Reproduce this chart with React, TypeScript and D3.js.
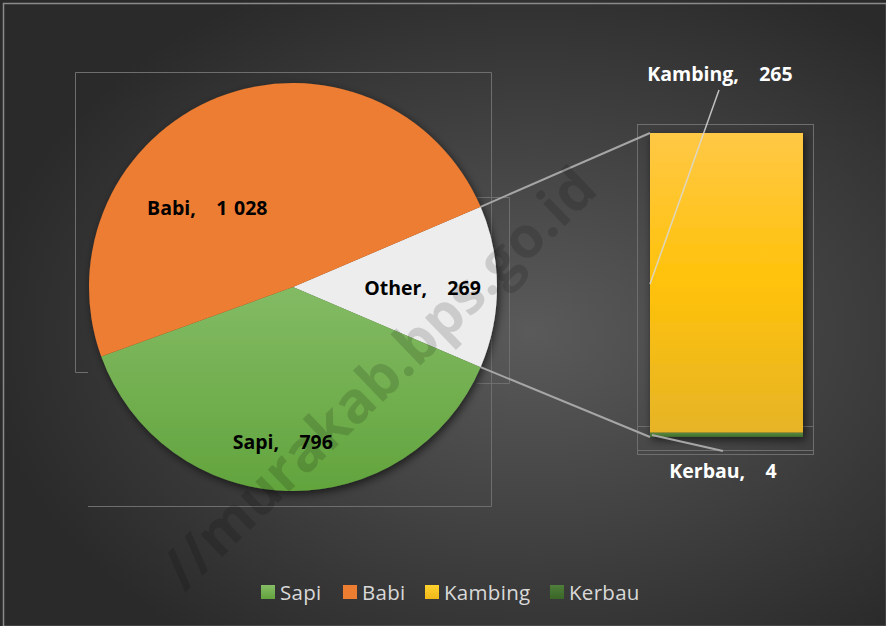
import React from "react";
import * as d3 from "d3";

const pieCategories = ["Sapi", "Babi"];
const pieValues = [796, 1028];
const otherLabel = "Other";
const barCategories = ["Kambing", "Kerbau"];
const barValues = [265, 4];
const legendCategories = ["Sapi", "Babi", "Kambing", "Kerbau"];
const watermark = "//murakab.bps.go.id";

const W = 886;
const H = 626;
const cx = 293;
const cy = 287;
const R = 204;
const FONT = "'Open Sans', Lato, sans-serif";

const fills: Record<string, string> = {
  Sapi: "url(#gSapi)",
  Babi: "#ed7d31",
  Other: "#ededed",
  Kambing: "url(#gKambing)",
  Kerbau: "url(#gKerbau)",
};

export default function App() {
  const otherTotal = d3.sum(barValues);
  const pieData = [
    { name: otherLabel, value: otherTotal },
    { name: pieCategories[0], value: pieValues[0] },
    { name: pieCategories[1], value: pieValues[1] },
  ];
  const total = d3.sum(pieData, (d) => d.value);
  const otherAngle = (otherTotal / total) * 2 * Math.PI;
  const start = Math.PI / 2 - otherAngle / 2;
  const arcs = d3
    .pie<{ name: string; value: number }>()
    .sort(null)
    .value((d) => d.value)
    .startAngle(start)
    .endAngle(start + 2 * Math.PI)(pieData);
  const arcGen = d3.arc<any>().innerRadius(0).outerRadius(R);

  // bar
  const barX0 = 650;
  const barX1 = 803;
  const y = d3.scaleLinear().domain([0, otherTotal]).range([437, 133]);
  const stackOrder = [...barCategories].reverse(); // Kerbau at bottom
  let acc = 0;
  const barSegs = stackOrder.map((name) => {
    const v = barValues[barCategories.indexOf(name)];
    const seg = { name, v, y0: acc, y1: acc + v };
    acc += v;
    return seg;
  });

  const otherArc = arcs[0];
  const pt = (a: number) => [cx + R * Math.sin(a), cy - R * Math.cos(a)];
  const [ux, uy] = pt(otherArc.startAngle);
  const [lx, ly] = pt(otherArc.endAngle);

  // label offsets (fraction of radius) relative to pie centre
  const labelPos: Record<string, [number, number]> = {
    Babi: [-0.42, -0.39],
    Sapi: [-0.05, 0.755],
    Other: [0.635, 0.0],
  };
  const fmt = (v: number) => d3.format(",")(v).replace(/,/g, " ");

  const legendX = [261, 343, 425, 550];
  const labelProps = {
    textAnchor: "middle" as const,
    dominantBaseline: "central" as const,
    fontFamily: FONT,
    fontWeight: 700,
    fontSize: 19.5,
    wordSpacing: 1.7,
    xmlSpace: "preserve",
    style: { whiteSpace: "pre" as const },
  };

  return (
    <svg width={W} height={H} style={{ display: "block", position: "absolute", left: 0, top: 0 }}>
      <defs>
        <radialGradient id="bg" cx="0.6" cy="0.53" r="0.62">
          <stop offset="0" stopColor="#5a5a5a" />
          <stop offset="1" stopColor="#2a2a2a" />
        </radialGradient>
        <linearGradient id="gSapi" x1="0" y1="0" x2="0" y2="1">
          <stop offset="0" stopColor="#83bb64" />
          <stop offset="1" stopColor="#62a43d" />
        </linearGradient>
        <linearGradient id="gKambing" x1="0" y1="0" x2="0" y2="1">
          <stop offset="0" stopColor="#ffc845" />
          <stop offset="0.5" stopColor="#ffc20a" />
          <stop offset="1" stopColor="#e6b427" />
        </linearGradient>
        <linearGradient id="gKerbau" x1="0" y1="0" x2="0" y2="1">
          <stop offset="0" stopColor="#5a8a42" />
          <stop offset="1" stopColor="#3d6a2a" />
        </linearGradient>
        <linearGradient id="lSapi" x1="0" y1="0" x2="0" y2="1">
          <stop offset="0" stopColor="#86bd66" />
          <stop offset="1" stopColor="#62a43d" />
        </linearGradient>
        <linearGradient id="lKambing" x1="0" y1="0" x2="0" y2="1">
          <stop offset="0" stopColor="#ffd22e" />
          <stop offset="1" stopColor="#f0b81a" />
        </linearGradient>
        <linearGradient id="lKerbau" x1="0" y1="0" x2="0" y2="1">
          <stop offset="0" stopColor="#4f7f3a" />
          <stop offset="1" stopColor="#3a6628" />
        </linearGradient>
        <filter id="shadow" x="-20%" y="-20%" width="140%" height="140%">
          <feDropShadow dx="2" dy="3" stdDeviation="4" floodColor="#000" floodOpacity="0.6" />
        </filter>
      </defs>
      <rect x={0} y={0} width={W} height={H} fill="url(#bg)" />
      <rect x={3.5} y={3.5} width={W - 3} height={H - 3} fill="none" stroke="#8a8a8a" strokeWidth={1.5} />

      {/* plot area frames */}
      <g fill="none" stroke="#6e6e6e" strokeWidth={1}>
        <path d="M75.5,372.5 V72.5 H491.5 V506.5 H88" />
        <path d="M75.5,372.5 H88" />
        <path d="M477,197.5 H509.5 V383.5 H477" />
        <rect x={637.5} y={124.5} width={176} height={330} />
        <path d="M637.5,426.5 H813.5 M637.5,450.5 H813.5" />
      </g>

      {/* pie */}
      <g filter="url(#shadow)">
        <g transform={`translate(${cx},${cy})`}>
          {arcs.map((a) => (
            <path key={a.data.name} d={arcGen(a) as string} fill={fills[a.data.name]} />
          ))}
        </g>
      </g>

      {/* bar */}
      <g filter="url(#shadow)">
        {barSegs.map((s) => (
          <rect
            key={s.name}
            x={barX0}
            y={y(s.y1)}
            width={barX1 - barX0}
            height={y(s.y0) - y(s.y1)}
            fill={fills[s.name]}
          />
        ))}
      </g>

      {/* connector lines */}
      <g stroke="#a6a6a6" strokeWidth={2} fill="none">
        <line x1={ux} y1={uy} x2={barX0} y2={y(otherTotal)} />
        <line x1={lx} y1={ly} x2={barX0} y2={y(0)} />
      </g>

      {/* leader lines */}
      <line x1={719} y1={90} x2={barX0} y2={284} stroke="#d9d9d9" strokeWidth={1.5} opacity={0.85} />
      <line x1={barX0 + 2} y1={y(0) - 2} x2={723} y2={451} stroke="#a6a6a6" strokeWidth={2} />

      {/* watermark */}
      <text
        transform="translate(600,192) rotate(-44)"
        textAnchor="end"
        fontFamily={FONT}
        fontWeight={700}
        fontSize={57}
        fill="#000"
        fillOpacity={0.14}
      >
        {watermark}
      </text>

      {/* pie labels */}
      {arcs.map((a) => {
        const off = labelPos[a.data.name];
        return (
          <text key={a.data.name} x={cx + off[0] * R} y={cy + off[1] * R} fill="#000" {...labelProps}>
            {`${a.data.name},   ${fmt(a.data.value)}`}
          </text>
        );
      })}

      {/* bar labels */}
      <text x={720} y={73} fill="#fff" {...labelProps}>
        {`${barCategories[0]},   ${fmt(barValues[0])}`}
      </text>
      <text x={723} y={470} fill="#fff" {...labelProps}>
        {`${barCategories[1]},   ${fmt(barValues[1])}`}
      </text>

      {/* legend */}
      {legendCategories.map((c, i) => {
        const sw = c === "Babi" ? "#ed7d31" : `url(#l${c})`;
        return (
          <g key={c}>
            <rect x={legendX[i]} y={585} width={14} height={14} fill={sw} />
            <text
              x={legendX[i] + 19}
              y={592}
              dominantBaseline="central"
              fontFamily={FONT}
              fontSize={20.5}
              letterSpacing={0.3}
              fill="#d9d9d9"
            >
              {c}
            </text>
          </g>
        );
      })}
    </svg>
  );
}
